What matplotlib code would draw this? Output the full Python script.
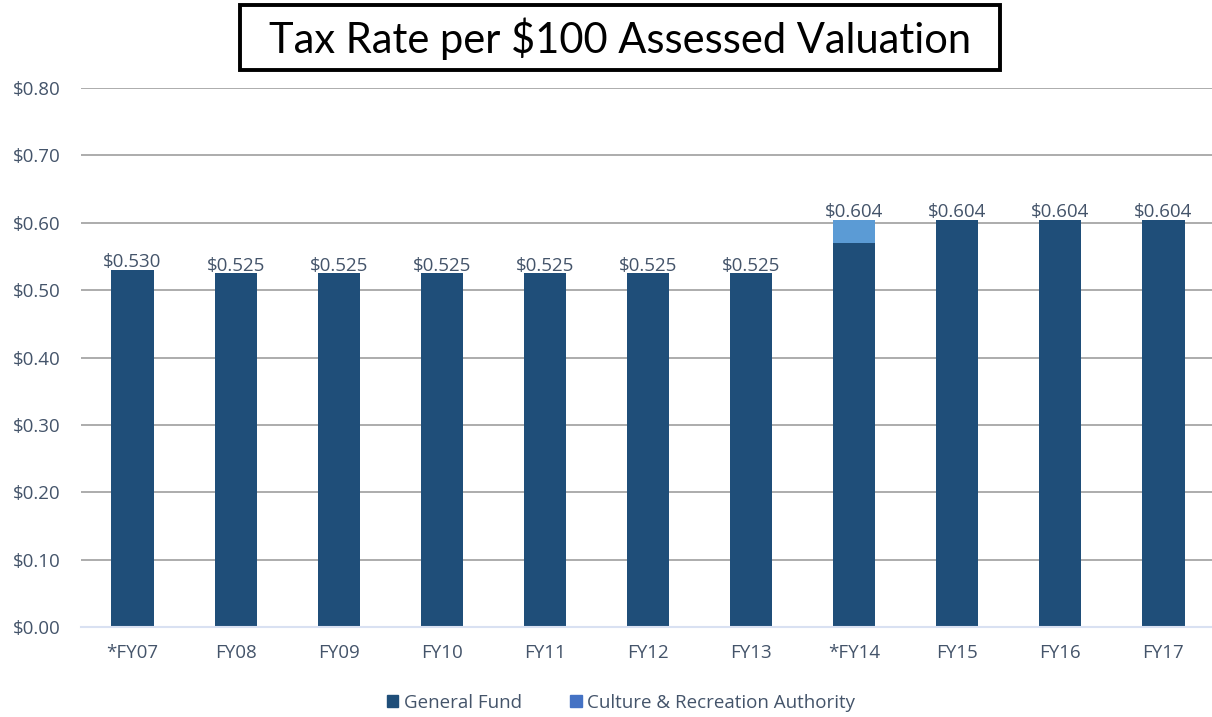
import matplotlib
matplotlib.use('AGG')
import numpy as np
import matplotlib.pyplot as plt
from matplotlib.patches import Patch, Rectangle

years = ["*FY07", "FY08", "FY09", "FY10", "FY11", "FY12", "FY13",
         "*FY14", "FY15", "FY16", "FY17"]
general_fund = [0.530, 0.525, 0.525, 0.525, 0.525, 0.525, 0.525,
                0.570, 0.604, 0.604, 0.604]
culture_rec = [0, 0, 0, 0, 0, 0, 0, 0.034, 0, 0, 0]
labels = ["$0.530", "$0.525", "$0.525", "$0.525", "$0.525", "$0.525",
          "$0.525", "$0.604", "$0.604", "$0.604", "$0.604"]
yticks = [0.0, 0.1, 0.2, 0.3, 0.4, 0.5, 0.6, 0.7, 0.8]

DARK = "#1F4E79"
LIGHT = "#5B9BD5"
TEXT = "#44546A"

plt.rcParams['font.family'] = ['Open Sans', 'DejaVu Sans']

fig = plt.figure(figsize=(12.12, 7.17), dpi=100)
ax = fig.add_axes([81 / 1212, 1 - 627 / 717, 1134 / 1212, (627 - 88) / 717])

x = np.arange(len(years))
ax.bar(x, general_fund, width=0.41, color=DARK, zorder=3)
ax.bar(x, culture_rec, width=0.41, bottom=general_fund, color=LIGHT, zorder=3)

totals = np.array(general_fund) + np.array(culture_rec)
for xi, t, lab in zip(x, totals, labels):
    ax.text(xi, t - 0.002, lab, ha='center', va='bottom', fontsize=13.5,
            color=TEXT, zorder=4)

ax.set_xlim(-0.5, len(years) - 0.5)
ax.set_ylim(0, 0.8)
ax.set_yticks(yticks)
ax.set_yticklabels(["$%.2f" % v for v in yticks])
ax.set_xticks(x)
ax.set_xticklabels(years)
ax.tick_params(axis='both', length=0, labelsize=13.5, labelcolor=TEXT)
ax.tick_params(axis='x', pad=12)
ax.tick_params(axis='y', pad=15)

ax.grid(axis='y', color='#A6A6A6', linewidth=1.3, zorder=0)
for s in ['top', 'right', 'left']:
    ax.spines[s].set_visible(False)
ax.spines['bottom'].set_color('#D9E1F2')
ax.spines['bottom'].set_linewidth(1.5)
ax.spines['bottom'].set_zorder(3.5)

handles = [Patch(color=DARK, label="General Fund"),
           Patch(color="#4472C4", label="Culture & Recreation Authority")]
fig.legend(handles=handles, loc='center', bbox_to_anchor=(621 / 1212, 1 - 703 / 717),
           ncol=2, frameon=False, fontsize=13.5, labelcolor=TEXT,
           handlelength=0.6, handleheight=0.6, handletextpad=0.3,
           columnspacing=2.6)

# boxed title
fig.patches.append(Rectangle((240 / 1212, 1 - 70 / 717), 760 / 1212, 65 / 717,
                             transform=fig.transFigure, facecolor='white',
                             edgecolor='black', linewidth=2.8))
fig.text(620 / 1212, 1 - 39 / 717, "Tax Rate per $100 Assessed Valuation",
         ha='center', va='center', fontsize=30, family=['Lato', 'DejaVu Sans'],
         color='black')

fig.savefig("out.png", dpi=100)
